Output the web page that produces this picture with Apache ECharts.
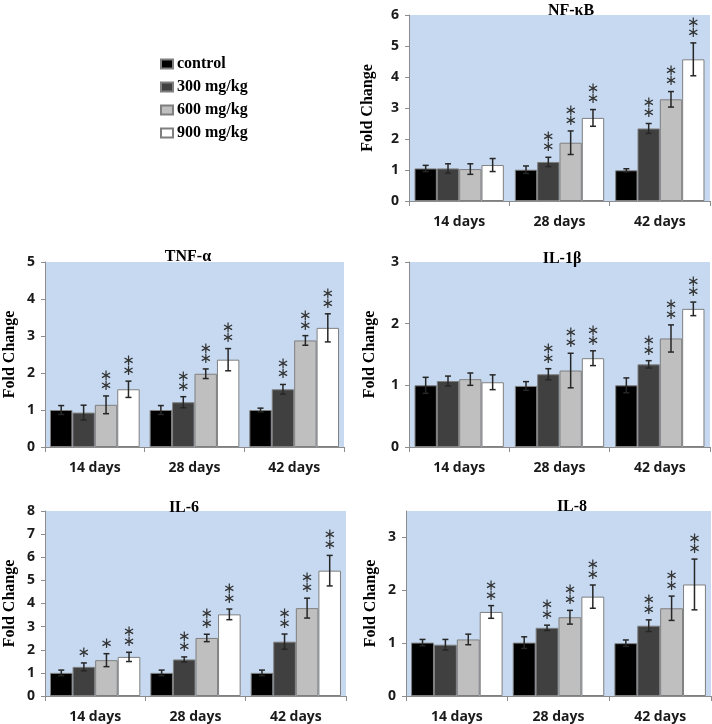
<!DOCTYPE html>
<html>
<head>
<meta charset="utf-8">
<script src="https://cdn.jsdelivr.net/npm/echarts@6/dist/echarts.min.js"></script>
<style>
html,body{margin:0;padding:0;background:#fff;}
#main{width:712px;height:724px;}
</style>
</head>
<body>
<div id="main"></div>
<script>
const categories = ['14 days', '28 days', '42 days'];
const groupNames = ['control', '300 mg/kg', '600 mg/kg', '900 mg/kg'];
const groupColors = ['#000000', '#404040', '#bfbfbf', '#ffffff'];

// rows = dose group, columns = 14 / 28 / 42 days
const nfkbMeans = [[1.05, 1.01, 0.99], [1.05, 1.26, 2.34], [1.03, 1.88, 3.28], [1.16, 2.68, 4.57]];
const nfkbErrors = [[0.10, 0.12, 0.05], [0.15, 0.15, 0.16], [0.17, 0.38, 0.25], [0.21, 0.27, 0.53]];
const nfkbStars = [[0, 0, 0], [0, 2, 2], [0, 2, 2], [0, 2, 2]];

const tnfMeans = [[1.0, 1.0, 1.0], [0.93, 1.21, 1.56], [1.14, 1.98, 2.88], [1.56, 2.36, 3.22]];
const tnfErrors = [[0.12, 0.12, 0.05], [0.20, 0.15, 0.13], [0.24, 0.13, 0.13], [0.22, 0.30, 0.38]];
const tnfStars = [[0, 0, 0], [0, 2, 2], [2, 2, 2], [2, 2, 2]];

const il1bMeans = [[1.0, 0.99, 1.0], [1.07, 1.18, 1.34], [1.10, 1.24, 1.76], [1.05, 1.44, 2.24]];
const il1bErrors = [[0.13, 0.07, 0.12], [0.08, 0.09, 0.06], [0.10, 0.28, 0.22], [0.12, 0.12, 0.11]];
const il1bStars = [[0, 0, 0], [0, 2, 2], [0, 2, 2], [0, 2, 2]];

const il6Means = [[1.0, 1.0, 1.0], [1.26, 1.58, 2.35], [1.55, 2.51, 3.80], [1.69, 3.53, 5.42]];
const il6Errors = [[0.12, 0.12, 0.12], [0.17, 0.11, 0.33], [0.28, 0.16, 0.43], [0.20, 0.23, 0.66]];
const il6Stars = [[0, 0, 0], [1, 2, 2], [1, 2, 2], [2, 2, 2]];

const il8Means = [[1.01, 1.01, 1.0], [0.97, 1.29, 1.33], [1.07, 1.49, 1.66], [1.59, 1.88, 2.11]];
const il8Errors = [[0.06, 0.11, 0.06], [0.10, 0.05, 0.11], [0.10, 0.13, 0.23], [0.12, 0.22, 0.48]];
const il8Stars = [[0, 0, 0], [0, 2, 2], [0, 2, 2], [2, 2, 2]];

const panelTitles = ['NF-κB', 'TNF-α', 'IL-1β', 'IL-6', 'IL-8'];
const yMaxes = [6, 5, 3, 8, 3.5];

const panels = [
  { means: nfkbMeans, errs: nfkbErrors, stars: nfkbStars, grid: { left: 409, top: 15, width: 301, height: 186 }, gap: 0.11, nameGap: 33, title: [566, 6] },
  { means: tnfMeans, errs: tnfErrors, stars: tnfStars, grid: { left: 45, top: 262, width: 299, height: 185 }, gap: 0.10, nameGap: 27, title: [183, 252] },
  { means: il1bMeans, errs: il1bErrors, stars: il1bStars, grid: { left: 409, top: 262, width: 301, height: 185 }, gap: 0.11, nameGap: 31, title: [557, 254] },
  { means: il6Means, errs: il6Errors, stars: il6Stars, grid: { left: 45, top: 511, width: 301, height: 186 }, gap: 0.10, nameGap: 27, title: [179, 503] },
  { means: il8Means, errs: il8Errors, stars: il8Stars, grid: { left: 406, top: 511, width: 305, height: 186 }, gap: 0.10, nameGap: 27, title: [567, 502] }
];

const axisGray = '#8c8c8c';
const grids = [], xAxes = [], yAxes = [], series = [], titles = [];

panels.forEach((p, pi) => {
  grids.push(Object.assign({ show: true, backgroundColor: '#c6d9f1', borderWidth: 0, containLabel: false }, p.grid));
  xAxes.push({
    type: 'category', gridIndex: pi, data: categories,
    axisLine: { lineStyle: { color: axisGray, width: 1 } },
    axisTick: { show: true, length: 5, lineStyle: { color: axisGray } },
    axisLabel: { color: '#1a1a1a', fontWeight: 'bold', fontSize: 14, fontFamily: 'Open Sans', margin: 14 }
  });
  yAxes.push({
    type: 'value', gridIndex: pi, min: 0, max: yMaxes[pi], interval: 1,
    name: 'Fold Change', nameLocation: 'middle', nameGap: p.nameGap, nameRotate: 90,
    nameTextStyle: { fontFamily: 'Liberation Serif', fontWeight: 'bold', fontSize: 16, color: '#000' },
    axisLine: { show: true, lineStyle: { color: axisGray, width: 1 } },
    axisTick: { show: true, length: 4, lineStyle: { color: axisGray } },
    splitLine: { show: false },
    axisLabel: { color: '#1a1a1a', fontWeight: 'bold', fontSize: 14, fontFamily: 'Open Sans', margin: 10, showMaxLabel: yMaxes[pi] % 1 === 0 }
  });
  titles.push({
    text: panelTitles[pi], left: p.title[0], top: p.title[1], textAlign: 'center', textVerticalAlign: 'middle',
    textStyle: { fontFamily: 'Liberation Serif', fontWeight: 'bold', fontSize: 16, color: '#000' }
  });
  groupNames.forEach((gName, gi) => {
    series.push({
      type: 'bar', name: gName, xAxisIndex: pi, yAxisIndex: pi,
      data: p.means[gi],
      barGap: '0%', barCategoryGap: (p.gap * 100) + '%',
      itemStyle: { color: groupColors[gi], borderColor: '#7f7f7f', borderWidth: 1 },
      z: 2
    });
  });
  const errData = [];
  for (let gi = 0; gi < 4; gi++) {
    for (let ci = 0; ci < 3; ci++) {
      errData.push([ci, gi, p.means[gi][ci], p.errs[gi][ci], p.stars[gi][ci]]);
    }
  }
  const gap = p.gap;
  series.push({
    type: 'custom', xAxisIndex: pi, yAxisIndex: pi, z: 5,
    encode: { x: 0, y: 2 },
    data: errData,
    renderItem: function (params, api) {
      const c = api.value(0), g = api.value(1), m = api.value(2), e = api.value(3), s = api.value(4);
      const band = api.size([1, 0])[0];
      const bw = band * (1 - gap) / 4;
      const cx = api.coord([c, 0])[0] - band * (1 - gap) / 2 + bw * (g + 0.5);
      const yT = api.coord([c, m + e])[1];
      const yB = api.coord([c, m - e])[1];
      const st = { stroke: '#262626', lineWidth: 1.5 };
      const children = [
        { type: 'line', shape: { x1: cx, y1: yT, x2: cx, y2: yB }, style: st },
        { type: 'line', shape: { x1: cx - 3, y1: yT, x2: cx + 3, y2: yT }, style: st },
        { type: 'line', shape: { x1: cx - 3, y1: yB, x2: cx + 3, y2: yB }, style: st }
      ];
      for (let k = 0; k < s; k++) {
        children.push({
          type: 'text',
          style: { text: '∗', x: cx, y: yT - 10 - 10 * k, align: 'center', verticalAlign: 'middle', font: '15px "DejaVu Sans"', fill: '#333' }
        });
      }
      return { type: 'group', children: children };
    }
  });
});

const chart = echarts.init(document.getElementById('main'), null, { renderer: 'canvas' });
chart.setOption({
  animation: false,
  title: titles,
  legend: {
    data: groupNames, orient: 'vertical', left: 155, top: 51, icon: 'rect',
    itemWidth: 12, itemHeight: 9, itemGap: 7,
    textStyle: { fontFamily: 'Liberation Serif', fontWeight: 'bold', fontSize: 16, color: '#000', padding: [0, 0, 0, -1] }
  },
  grid: grids,
  xAxis: xAxes,
  yAxis: yAxes,
  series: series
});
</script>
</body>
</html>
